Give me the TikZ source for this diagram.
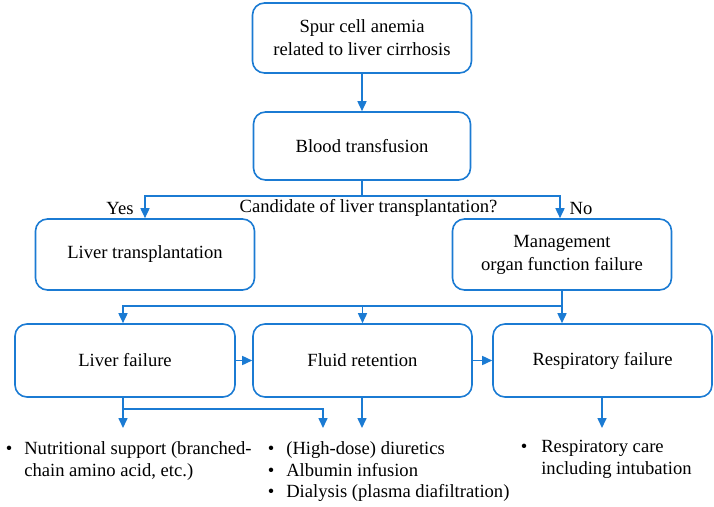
\documentclass[tikz,border=0pt]{standalone}
\usepackage{fontspec}
\setmainfont{Liberation Serif}
\usetikzlibrary{arrows.meta,calc}
\definecolor{flowblue}{HTML}{1B7BD3}
\tikzset{every picture/.style={line width=1.6pt}}
\tikzset{
  flowbox/.style={draw=flowblue, rounded corners=12pt, minimum width=219pt, minimum height=71pt, align=center, font=\fontsize{18.6}{23}\selectfont},
  flowline/.style={draw=flowblue},
  flowarrow/.style={draw=flowblue, -{Triangle[length=10pt,width=9pt]}},
  listtext/.style={font=\fontsize{18.6}{21.5}\selectfont, inner sep=0pt, anchor=north west},
  branchtext/.style={font=\fontsize{18.6}{22}\selectfont, inner sep=0pt}
}

\begin{document}
\begin{tikzpicture}[x=1pt,y=-1pt]
              \useasboundingbox (0,0) rectangle (714,506);
              % boxes
              \node[flowbox, minimum height=70pt] (spur) at (362,38) {Spur cell anemia\\related to liver cirrhosis};
              \node[flowbox, minimum width=217pt, minimum height=68pt] (blood) at (362,146) {Blood transfusion};
              \node[flowbox] (liverTx) at (145,254.5) {Liver transplantation};
              \node[flowbox] (manage) at (562,254.5) {Management\\organ function failure};
              \node[flowbox, minimum width=220pt, minimum height=73pt] (liverFail) at (125,360.5) {Liver failure};
              \node[flowbox, minimum width=219pt, minimum height=73pt] (fluid) at (362.5,360.5) {Fluid retention};
              \node[flowbox, minimum width=219pt, minimum height=73pt] (respFail) at (602.5,360.5) {Respiratory failure};
              % branch points
              \coordinate (split1) at (362,196);
              \coordinate (split2) at (562,306);
              \coordinate (split3) at (123,409);
              \coordinate (liverEnd) at (123,428);
              \coordinate (fluidEnd1) at (323,428);
              \coordinate (fluidEnd2) at (362,428);
              \coordinate (respEnd) at (602,428);
              % connectors
              \draw[flowarrow] (spur) -- (blood);
              \draw[flowline] (blood.south) -- (split1);
              \draw[flowarrow] (split1) -| (liverTx.north);
              \draw[flowarrow] (split1) -| ($(manage.north)+(-2,0)$);
              \draw[flowline] (manage.south) -- (split2);
              \draw[flowarrow] (split2) -| ($(liverFail.north)+(-2,0)$);
              \draw[flowarrow] (split2 |- fluid.north) ++(0,-18) -- (split2 |- respFail.north);
              \draw[flowarrow] (fluid.north |- split2) -- (fluid.north);
              \draw[flowarrow] (liverFail) -- (fluid);
              \draw[flowarrow] (fluid) -- (respFail);
              \draw[flowline] (liverFail.south -| split3) -- (split3);
              \draw[flowarrow] (split3) -- (liverEnd);
              \draw[flowarrow] (split3) -| (fluidEnd1);
              \draw[flowarrow] (fluid.south -| fluidEnd2) -- (fluidEnd2);
              \draw[flowarrow] (respFail.south -| respEnd) -- (respEnd);
              % labels
              \node[branchtext] (yes) at (120,208) {Yes};
              \node[branchtext] (no) at (581,208) {No};
              \node[branchtext] (question) at (368.5,208) {Candidate of liver transplantation?};
              % lists
              \node[listtext] (liverList) at (5,439) {\begin{tabular}{@{}l@{\hspace{12pt}}l@{}}\textbullet & Nutritional support (branched-\\ & chain amino acid, etc.)\end{tabular}};
              \node[listtext] (fluidList) at (267,439) {\begin{tabular}{@{}l@{\hspace{12pt}}l@{}}\textbullet & (High-dose) diuretics\\\textbullet & Albumin infusion\\\textbullet & Dialysis (plasma diafiltration)\end{tabular}};
              \node[listtext] (respList) at (520,437) {\begin{tabular}{@{}l@{\hspace{14pt}}l@{}}\textbullet & Respiratory care\\ & including intubation\end{tabular}};
            \end{tikzpicture}
\end{document}
